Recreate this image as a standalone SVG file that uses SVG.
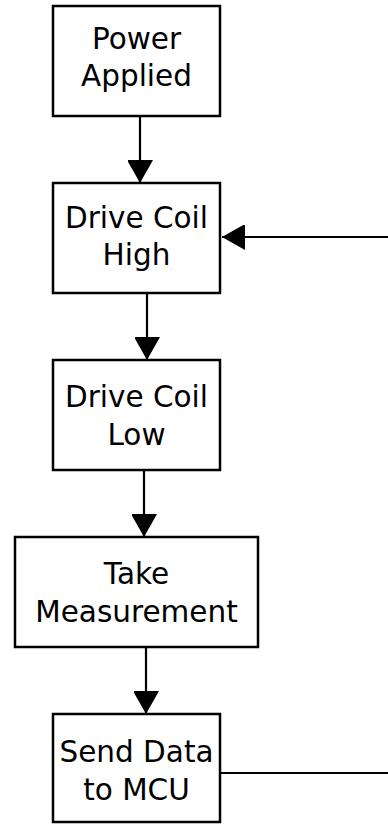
<svg xmlns="http://www.w3.org/2000/svg" width="388" height="824" viewBox="0 0 388 824">
  <style>
    .box { fill: #ffffff; stroke: #000000; stroke-width: 2.5; }
    .label { font-family: "DejaVu Sans", Verdana, sans-serif; font-size: 29.5px; fill: #000000; text-anchor: middle; }
    .wire { fill: none; stroke: #000000; stroke-width: 2.2; }
  </style>
  <defs>
    <marker id="arrow" markerUnits="userSpaceOnUse" markerWidth="27" markerHeight="25" refX="23" refY="13" orient="auto">
      <path d="M0,0 L23,13 L0,26 Z" fill="#000000"/>
    </marker>
  </defs>
  <rect width="388" height="824" fill="#ffffff"/>

  <g id="connectors">
    <line class="wire" x1="140" y1="116" x2="140" y2="183" marker-end="url(#arrow)"/>
    <line class="wire" x1="147" y1="293" x2="147" y2="360" marker-end="url(#arrow)"/>
    <line class="wire" x1="144" y1="470" x2="144" y2="537" marker-end="url(#arrow)"/>
    <line class="wire" x1="146" y1="647" x2="146" y2="714" marker-end="url(#arrow)"/>
    <path class="wire" d="M220,773 H392 V237 H222" marker-end="url(#arrow)"/>
  </g>

  <g id="power-applied">
    <rect class="box" x="53" y="6" width="167" height="110"/>
    <text class="label" x="136.5" y="49">Power</text>
    <text class="label" x="136.5" y="86">Applied</text>
  </g>

  <g id="drive-coil-high">
    <rect class="box" x="53" y="183" width="167" height="110"/>
    <text class="label" x="136.5" y="228">Drive Coil</text>
    <text class="label" x="136.5" y="265">High</text>
  </g>

  <g id="drive-coil-low">
    <rect class="box" x="53" y="360" width="167" height="110"/>
    <text class="label" x="136.5" y="407">Drive Coil</text>
    <text class="label" x="136.5" y="445">Low</text>
  </g>

  <g id="take-measurement">
    <rect class="box" x="15" y="537" width="243" height="110"/>
    <text class="label" x="136.5" y="584">Take</text>
    <text class="label" x="136.5" y="622">Measurement</text>
  </g>

  <g id="send-data">
    <rect class="box" x="53" y="714" width="167" height="108"/>
    <text class="label" x="136.5" y="762">Send Data</text>
    <text class="label" x="136.5" y="800">to MCU</text>
  </g>
</svg>
